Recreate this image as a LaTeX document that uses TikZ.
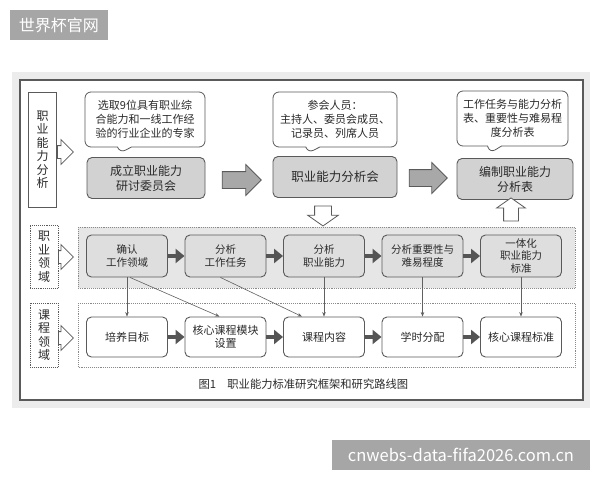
\documentclass[tikz,border=0pt]{standalone}
\usepackage{fontspec}
\setmainfont{Noto Sans CJK SC}
\usetikzlibrary{shapes.arrows,shapes.callouts,arrows.meta}

\definecolor{edgegray}{HTML}{5A5A5A}
\definecolor{stagegray}{HTML}{D2D2D2}
\definecolor{taskgray}{HTML}{DEDEDE}
\definecolor{bandgray}{HTML}{E6E6E6}
\definecolor{bandedge}{HTML}{8A8A8A}
\definecolor{arrowgray}{HTML}{A8A8A8}
\definecolor{flowgray}{HTML}{555555}
\definecolor{linkgray}{HTML}{606060}
\definecolor{txtgray}{HTML}{2A2A2A}
\definecolor{framegray}{HTML}{ECECEC}
\definecolor{wmgray}{HTML}{A6A6A6}

\begin{document}
\begin{tikzpicture}[x=1pt,y=-1pt,
    every node/.style={text=txtgray},
    stage/.style={draw=edgegray, line width=0.9pt, rounded corners=5pt, fill=stagegray, minimum width=118pt, minimum height=41pt, inner sep=1pt, align=center, font=\fontsize{12}{15}\selectfont},
    note/.style={rectangle callout, draw=edgegray, line width=0.8pt, rounded corners=6pt, fill=white, callout pointer width=14pt, minimum height=55pt, inner sep=1pt, align=center, font=\fontsize{11}{14}\selectfont},
    task/.style={draw=edgegray, line width=0.9pt, rounded corners=5pt, fill=taskgray, minimum width=81pt, minimum height=42pt, inner sep=1pt, align=center, font=\fontsize{10.5}{12.5}\selectfont},
    course/.style={task, fill=white, minimum height=40pt, font=\fontsize{11}{13}\selectfont},
    side/.style={draw=edgegray, line width=0.9pt, minimum width=28pt, inner sep=1pt, align=center, font=\fontsize{12}{13.5}\selectfont},
    band/.style={draw=bandedge, line width=0.9pt, densely dotted},
    bigarrow/.style={single arrow, draw=edgegray, line width=0.8pt, inner xsep=0pt, inner ysep=8pt, single arrow head extend=7pt},
    flow/.style={draw=flowgray, line width=4pt, -{Triangle[length=9pt,width=14pt]}},
    link/.style={draw=linkgray, line width=0.6pt, -{Stealth[length=4.5pt,width=3.5pt]}}]

    \useasboundingbox (0,0) rectangle (600,480);
    \fill[white] (0,0) rectangle (600,480);

    % Frame
    \fill[framegray] (12,72) rectangle (590,408);
    \draw[fill=white, draw=edgegray, line width=1.2pt] (20,80) rectangle (583,400);
    \draw[band, fill=bandgray] (78,227) rectangle (575,288);
    \draw[band] (78,303) rectangle (575,367);

    % Nodes
    \node[fill=wmgray, text=white, minimum width=98pt, minimum height=30pt, font=\fontsize{16}{16}\selectfont] (wmleft) at (59,25) {世界杯官网};
    \node[fill=wmgray, text=white, minimum width=258pt, minimum height=30pt, font=\fontsize{16.5}{16}\selectfont] (wmright) at (461,455) {cnwebs-data-fifa2026.com.cn};

    \node[side, minimum height=115pt] (abilityside) at (42.5,149.5) {职\\业\\能\\力\\分\\析};
    \node[bigarrow, fill=white, anchor=tail, inner ysep=6pt, single arrow head extend=6pt, minimum height=16pt] (into1) at (57,152) {};
    \node[side, densely dotted, minimum height=63pt] (fieldside) at (44,256.5) {职\\业\\领\\域};
    \node[bigarrow, fill=white, anchor=tail, inner ysep=6pt, single arrow head extend=6pt, minimum height=15pt] (into2) at (58,257) {};
    \node[side, densely dotted, minimum height=64pt] (courseside) at (44,335) {课\\程\\领\\域};
    \node[bigarrow, fill=white, anchor=tail, inner ysep=6pt, single arrow head extend=6pt, minimum height=15pt] (into3) at (58,338) {};

    \node[note, minimum width=120pt, callout absolute pointer={(120,153)}] (expert) at (145,119.5) {选取9位具有职业综\\合能力和一线工作经\\验的行业企业的专家};
    \node[note, minimum width=124pt, callout absolute pointer={(308,153)}] (member) at (335,119.5) {参会人员：\\主持人、委员会成员、\\记录员、列席人员};
    \node[note, minimum width=111pt, callout absolute pointer={(490,153)}] (sheet) at (512.5,118.5) {工作任务与能力分析\\表、重要性与难易程\\度分析表};

    \node[stage] (found) at (146,178) {成立职业能力\\研讨委员会};
    \node[stage, minimum width=124pt, font=\fontsize{12.5}{15}\selectfont] (meet) at (335,177) {职业能力分析会};
    \node[stage, minimum width=116pt] (chart) at (515,179) {编制职业能力\\分析表};

    \node[bigarrow, fill=arrowgray, minimum height=39pt] (go1) at (237.5,180) {};
    \node[bigarrow, fill=arrowgray, minimum height=38pt] (go2) at (424,178) {};
    \node[bigarrow, fill=white, rotate=-90, single arrow tip angle=110, minimum height=20pt] (down) at (323,213) {};
    \node[bigarrow, fill=white, rotate=90, single arrow tip angle=110, inner ysep=7pt, minimum height=23pt] (up) at (511,212) {};

    \node[task] (t1) at (127,256) {确认\\工作领域};
    \node[task] (t2) at (225.5,256) {分析\\工作任务};
    \node[task] (t3) at (324,256) {分析\\职业能力};
    \node[task] (t4) at (422.5,256) {分析重要性与\\难易程度};
    \node[task] (t5) at (521,256) {一体化\\职业能力\\标准};

    \node[course] (c1) at (127,337) {培养目标};
    \node[course] (c2) at (225.5,337) {核心课程模块\\设置};
    \node[course] (c3) at (324,337) {课程内容};
    \node[course] (c4) at (422.5,337) {学时分配};
    \node[course] (c5) at (521,337) {核心课程标准};

    \node[anchor=west, font=\fontsize{11.3}{13}\selectfont] (caption) at (195,384) {图1\hspace{1em}职业能力标准研究框架和研究路线图};

    % Edges
    \draw[flow] (t1) -- (t2);
    \draw[flow] (t2) -- (t3);
    \draw[flow] (t3) -- (t4);
    \draw[flow] (t4) -- (t5);

    \draw[flow] (c1) -- (c2);
    \draw[flow] (c2) -- (c3);
    \draw[flow] (c3) -- (c4);
    \draw[flow] (c4) -- (c5);

    \draw[link] (t1) -- (c1);
    \draw[link] ([xshift=3pt]t1.south) -- ([xshift=-6pt]c2.north);
    \draw[link] ([xshift=-5pt]t2.south) -- ([xshift=-22pt]c3.north);
    \draw[link] (t3) -- (c3);
    \draw[link] (t4) -- (c4);
    \draw[link] (t5) -- (c5);
\end{tikzpicture}
\end{document}
